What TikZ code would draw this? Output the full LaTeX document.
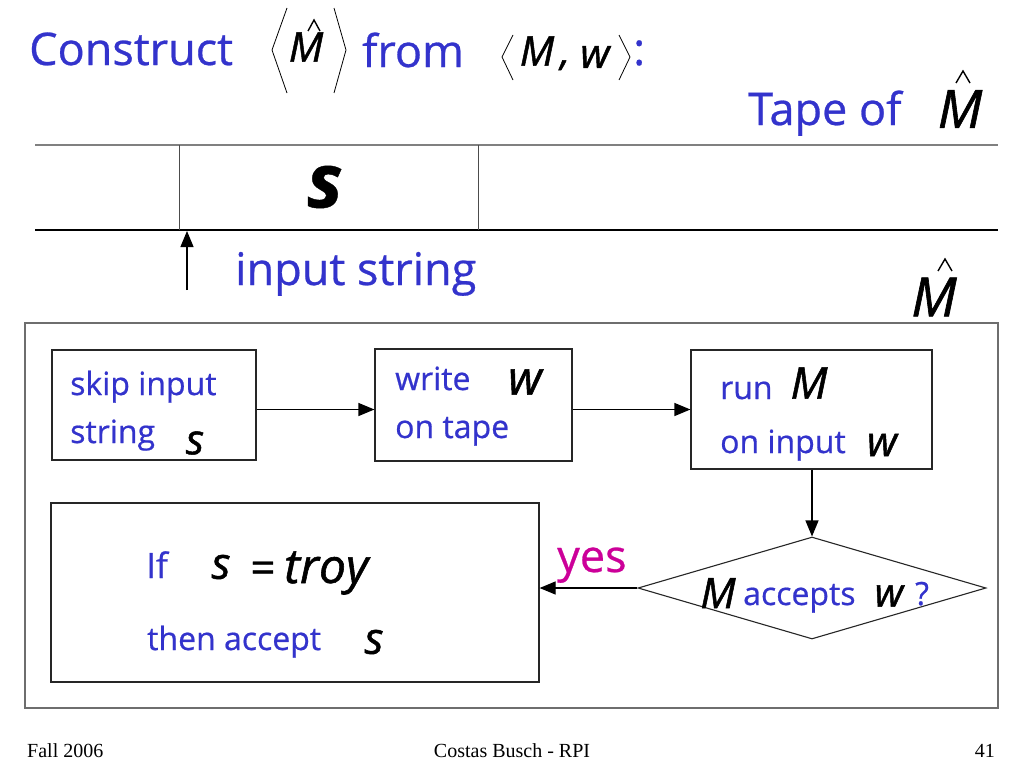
\documentclass[tikz,border=0pt]{standalone}
\usepackage{fontspec}
\setmainfont{Open Sans}[FakeBold=0.6,ItalicFeatures={FakeBold=1.2}]
\newfontfamily\footfont{Liberation Serif}
\usetikzlibrary{shapes.geometric,arrows.meta}
\definecolor{tblue}{RGB}{51,51,204}
\definecolor{tmag}{RGB}{204,0,153}
\definecolor{lgray}{RGB}{110,110,110}
\newcommand{\fs}[1]{\fontsize{#1}{#1}\selectfont}
\begin{document}
\begin{tikzpicture}[x=1pt,y=-1pt,
  txt/.style={inner sep=0pt,anchor=base west,text=tblue},
  big/.style={txt,font=\fs{45}},
  sml/.style={txt,font=\fs{32}},
  mth/.style={inner sep=0pt,text=black,font=\fs{#1}\itshape},
  mth/.default=42,
  boxx/.style={draw=black!85,line width=1.2pt,inner sep=0pt},
  arr/.style={line width=1.2pt,-{Triangle[length=16pt,width=13pt]}},
  hat/.style={line width=1.4pt,line join=miter},
  brk/.style={line width=0.8pt},
  foot/.style={inner sep=0pt,font=\footfont\fs{20}}
]
\useasboundingbox (0,0) rectangle (1024,768);
\fill[white] (0,0) rectangle (1024,768);

% title
\node[big] (t1) at (29,65) {Construct};
\node[mth=41] (tm) at (306,47) {M};
\draw[hat] (308,31) -- (314,20) -- (320,31);
\draw[brk] (287,8) -- (272,50) -- (287,93);
\draw[brk] (334,8) -- (346,50) -- (334,93);
\node[big] (t2) at (362,67) {from};
\draw[brk] (513,35) -- (502,57) -- (513,80);
\node[mth=41] (tmm) at (537,51) {M};
\node[inner sep=0pt,anchor=base west,font=\fs{40}\itshape] (tcomma) at (560,65) {,};
\node[mth=41] (tmw) at (595,57) {w};
\draw[brk] (619,35) -- (630,57) -- (619,80);
\node[big] (tc) at (633,65) {:};

% tape label
\node[big] (tape) at (748,125) {Tape of};
\node[mth=53] (tapem) at (960,109) {M};
\draw[hat] (956,83) -- (963,71) -- (970,83);

% tape
\draw[draw=gray,line width=2pt] (35,145) -- (998,145);
\draw[line width=1.2pt] (35,230) -- (998,230);
\draw[draw=black!70,line width=0.8pt] (179,145) -- (179,230);
\draw[draw=black!70,line width=0.8pt] (478,145) -- (478,230);
\node[inner sep=0pt,font=\fs{75}\bfseries\itshape] (cells) at (325,187) {s};

\coordinate (arrfoot) at (187,290);
\coordinate (arrhead) at (187,231);
\draw[arr] (arrfoot) -- (arrhead);
\node[big] (inp) at (235,285) {input string};

\node[mth=54] (rm) at (934,297) {M};
\draw[hat] (938,271) -- (945,259) -- (952,271);

% machine box
\draw[draw=lgray,line width=1.5pt] (25,323) rectangle (998,708);

\node[boxx,minimum width=204pt,minimum height=110pt] (b1) at (154,405) {};
\node[boxx,minimum width=197pt,minimum height=112pt] (b2) at (473.5,405) {};
\node[boxx,minimum width=241pt,minimum height=119pt] (b3) at (811.5,409.5) {};
\node[boxx,minimum width=488pt,minimum height=179pt] (b4) at (295,592.5) {};
\node[draw=black!85,line width=1.1pt,diamond,inner sep=0pt,minimum width=348pt,minimum height=102pt] (dia) at (812,588) {};

% box texts
\node[sml] (s1a) at (70,395) {skip input};
\node[sml] (s1b) at (70,443) {string};
\node[mth=42] (s1s) at (195,443) {s};

\node[sml] (s2a) at (395,390) {write};
\node[mth=47] (s2w) at (525,382) {w};
\node[sml] (s2b) at (395,438) {on tape};

\node[sml] (s3a) at (720,399) {run};
\node[mth=44] (s3m) at (809,383) {M};
\node[sml] (s3b) at (720,453) {on input};
\node[mth=42] (s3w) at (882,445) {w};

\node[mth=42] (dm) at (718,593) {M};
\node[sml] (dacc) at (743,605) {accepts};
\node[mth=40] (dw) at (889,596) {w};
\node[sml] (dq) at (915,605) {?};

\node[txt,font=\fs{35}] (s4a) at (146,578) {If};
\node[mth=44] (s4s1) at (221,567) {s};
\node[inner sep=0pt,anchor=base,font=\fs{44}] (s4eq) at (263,583) {=};
\node[inner sep=0pt,anchor=base west,font=\fs{48}\itshape] (s4t) at (284,583) {troy};
\node[sml] (s4b) at (147,650) {then accept};
\node[mth=44] (s4s) at (374,642) {s};

\node[txt,text=tmag,font=\fs{45}] (yes) at (557,572) {yes};

% connectors
\draw[arr] (b1.east |- b3.west) -- (b2.west |- b3.west);
\draw[arr] (b2.east |- b3.west) -- (b3.west);
\draw[arr] (dia.north |- b3.south) -- (dia.north);
\draw[arr] (dia.west) -- (b4.east |- dia.west);

% footer
\node[foot,anchor=base west] (f1) at (27,757) {Fall 2006};
\node[foot,anchor=base] (f2) at (512,757) {Costas Busch - RPI};
\node[foot,anchor=base east] (f3) at (995,757) {41};
\end{tikzpicture}
\end{document}
